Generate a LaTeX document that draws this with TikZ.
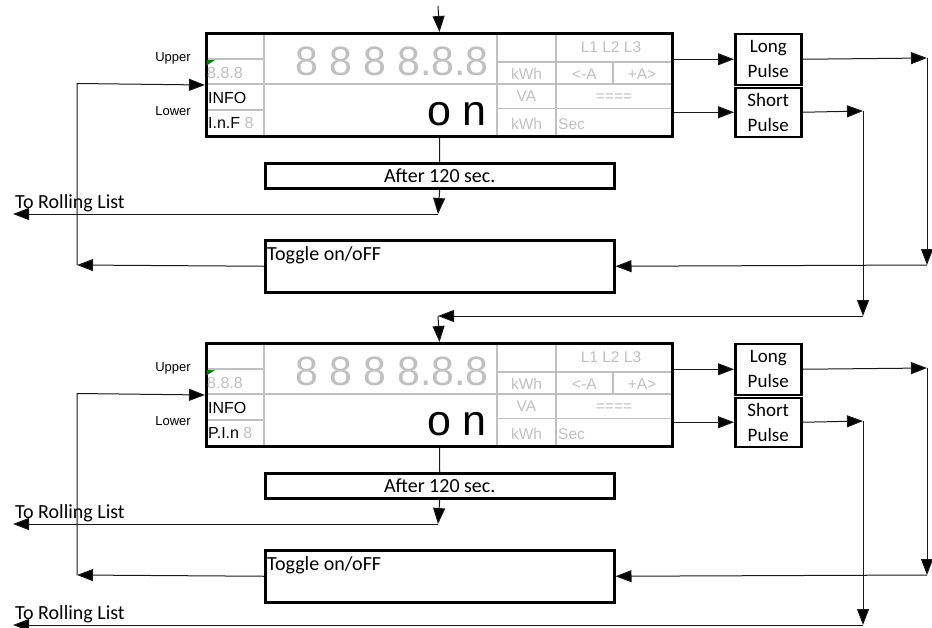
\documentclass[tikz,border=0pt]{standalone}
\usepackage{fontspec}
\setmainfont{Carlito}
\newfontfamily\arialf{Liberation Sans}
\usetikzlibrary{arrows.meta}
\definecolor{lcdgrey}{RGB}{192,192,192}
\definecolor{conncol}{RGB}{25,25,25}
\definecolor{cornergreen}{RGB}{0,128,0}
\tikzset{
  conn/.style={line width=1pt, draw=conncol},
  tip/.style={-{Triangle[length=16pt,width=12pt,fill=black]}},
  box/.style={draw, line width=2.5pt, inner sep=0pt},
  dispframe/.style={draw, line width=3pt, inner sep=0pt},
  gridline/.style={draw=lcdgrey, line width=1.5pt},
  lcdsmall/.style={text=lcdgrey, inner sep=0pt, font=\arialf\fontsize{16}{16}\selectfont},
  lcdtiny/.style={text=lcdgrey, inner sep=0pt, font=\arialf\fontsize{15.5}{15.5}\selectfont},
  lcdblack/.style={text=black, inner sep=0pt, font=\arialf\fontsize{16}{16}\selectfont},
  lcdbig/.style={text=lcdgrey, inner sep=0pt, font=\arialf\fontsize{41}{41}\selectfont},
  lcdon/.style={text=black, inner sep=0pt, font=\arialf\fontsize{43}{43}\selectfont},
  sidelabel/.style={inner sep=0pt, font=\arialf\fontsize{13}{13}\selectfont},
  caltext/.style={inner sep=0pt, font=\fontsize{20}{20}\selectfont},
  pulsebox/.style={box, minimum width=66pt, align=center, font=\fontsize{19}{25}\selectfont},
}
\begin{document}
\begin{tikzpicture}[x=1pt,y=-1pt]
\useasboundingbox (0,0) rectangle (932,627);
\foreach \i/\dy/\code/\sby in {1/0/I.n.F/316, 2/310/P.I.n/315}{
\begin{scope}[shift={(0,\dy)}]
  % display grid
  \draw[gridline] (264,32) -- (264,135);
  \draw[gridline] (497,32) -- (497,135);
  \draw[gridline] (556,32) -- (556,135);
  \draw[gridline] (205,59) -- (264,59);
  \draw[gridline] (497,62) -- (671,62);
  \draw[gridline] (205,84) -- (671,84);
  \draw[gridline] (205,110) -- (264,110);
  \draw[gridline] (497,108.5) -- (671,108.5);
  \draw[gridline] (613,62) -- (613,84);
  \node[dispframe, minimum width=466pt, minimum height=103pt, anchor=north west] (disp\i) at (205,32) {};
  \fill[cornergreen] (206.5,60) -- (215,60) -- (206.5,65.5) -- cycle;
  % display texts
  \node[lcdsmall, anchor=base west] (tleft\i) at (207,78) {8.8.8};
  \node[lcdblack, anchor=base west] (tinfo\i) at (208,103) {INFO};
  \node[lcdblack, anchor=base west] (tcode\i) at (208,128) {\code\ \textcolor{lcdgrey}{8}};
  \node[lcdbig, anchor=base east] (tdig\i) at (489,75) {8 8 8 8.8.8};
  \node[lcdon, anchor=base east] (ton\i) at (487,125) {o n};
  \node[lcdtiny, anchor=base] (tl\i) at (611,52) {L1 L2 L3};
  \node[lcdtiny, anchor=base] (tkwa\i) at (526.5,79) {kWh};
  \node[lcdtiny, anchor=base] (tma\i) at (584.5,79) {<-A};
  \node[lcdtiny, anchor=base] (tpa\i) at (642,79) {+A>};
  \node[lcdtiny, anchor=base] (tva\i) at (526.5,101) {VA};
  \node[lcdtiny, anchor=base] (teq\i) at (614,101) {====};
  \node[lcdtiny, anchor=base] (tkwb\i) at (526.5,129) {kWh};
  \node[lcdtiny, anchor=base west] (tsec\i) at (558,129) {Sec};
  \node[sidelabel] (up\i) at (173,58) {Upper};
  \node[sidelabel] (lo\i) at (173,111) {Lower};
  % pulse boxes
  \node[pulsebox, minimum height=51pt, anchor=north west] (long\i) at (734,32.5) {Long\\Pulse};
  \node[pulsebox, minimum height=49pt, anchor=north west] (short\i) at (734,86.5) {Short\\Pulse};
  % after / toggle
  \node[box, minimum width=349pt, minimum height=25pt, anchor=north west, font=\fontsize{20}{20}\selectfont] (after\i) at (264,162) {After 120 sec.};
  \node[box, minimum width=349pt, minimum height=52pt, anchor=north west] (toggle\i) at (264,239) {};
  \node[caltext, anchor=base west] (togtext\i) at (267,260) {Toggle on/oFF};
  % rolling list
  \coordinate (roll\i) at (438,214);
  \coordinate (rollend\i) at (13,214);
  \draw[conn, tip] (after\i.south) -- (roll\i);
  \draw[conn, tip] (roll\i) -- (rollend\i);
  \node[caltext, anchor=base west] (rolltext\i) at (15,208) {To Rolling List};
  \draw[conn] (disp\i.south) -- (after\i.north);
  % left loop
  \coordinate (lc\i) at (77,265);
  \coordinate (lt\i) at (77,83.5);
  \draw[conn, tip] (toggle\i.west) -- (lc\i);
  \draw[conn, tip] (lc\i) -- (lt\i) -- (disp\i.west);
  % display to pulse boxes
  \draw[conn, tip] (long\i.west -| disp\i.east) -- (long\i.west);
  \draw[conn, tip] (short\i.west -| disp\i.east) -- (short\i.west);
  % long pulse loop
  \coordinate (lr\i) at (927,58);
  \coordinate (lb\i) at (927,265);
  \draw[conn, tip] (long\i.east) -- (lr\i);
  \draw[conn, tip] (lr\i) -- (lb\i);
  \draw[conn, tip] (lb\i) -- (toggle\i.east);
  % short pulse
  \coordinate (sr\i) at (863,111);
  \coordinate (sb\i) at (863,\sby);
  \draw[conn, tip] (short\i.east) -- (sr\i);
  \draw[conn, tip] (sr\i) -- (sb\i);
\end{scope}
}
\coordinate (top) at (438,6);
\draw[conn, tip] (top) -- (disp1.north);
\coordinate (sc1) at (438,316);
\draw[conn, tip] (sb1) -- (sc1);
\draw[conn, tip] (sc1) -- (disp2.north);
\coordinate (endroll) at (13,625);
\draw[conn, tip] (sb2) -- (endroll);
\node[caltext, anchor=base west] (rolltext3) at (15,619) {To Rolling List};
\end{tikzpicture}
\end{document}
